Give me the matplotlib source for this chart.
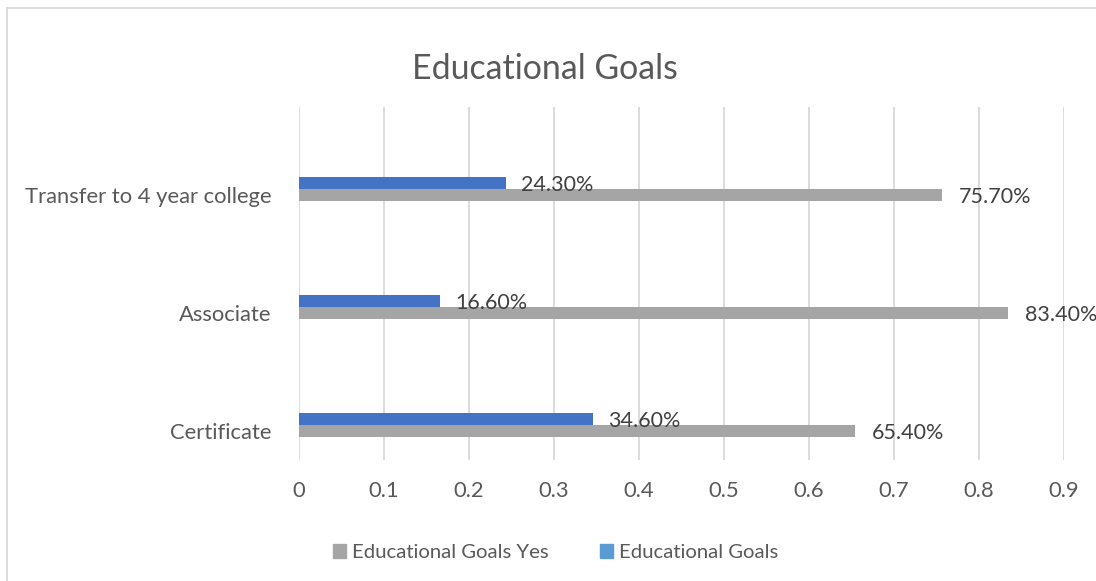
import numpy as np
import matplotlib.pyplot as plt
from matplotlib.lines import Line2D
from matplotlib.patches import Patch

plt.rcParams['font.family'] = ['Lato', 'DejaVu Sans']

# Survey results per goal (fractions)
categories = ["Certificate", "Associate", "Transfer to 4 year college"]
goals_yes = [0.654, 0.834, 0.757]
goals_no = [0.346, 0.166, 0.243]
xticks = [0, 0.1, 0.2, 0.3, 0.4, 0.5, 0.6, 0.7, 0.8, 0.9]

text_color = "#595959"
grid_color = "#d9d9d9"
gray = "#a5a5a5"
blue = "#4472c4"

fig = plt.figure(figsize=(10.96, 5.81), dpi=100)
ax = fig.add_axes([0.2728, 0.2083, 0.698, 0.6075])

y = np.arange(len(categories))
h = 0.1
ax.barh(y - h / 2, goals_yes, height=h, color=gray, zorder=2)
ax.barh(y + h / 2, goals_no, height=h, color=blue, zorder=2)

for yi, v in zip(y, goals_yes):
    ax.annotate(f"{v * 100:.2f}%", (v, yi - h / 2), xytext=(12, -1.5),
                textcoords="offset points", va="center", ha="left",
                fontsize=15.5, color="#404040")
for yi, v in zip(y, goals_no):
    ax.annotate(f"{v * 100:.2f}%", (v, yi + h / 2), xytext=(11, -1.5),
                textcoords="offset points", va="center", ha="left",
                fontsize=15.5, color="#404040")

ax.set_xlim(0, 0.9)
ax.set_ylim(-0.297, 2.695)
ax.set_xticks(xticks)
ax.set_xticklabels([f"{t:g}" for t in xticks])
ax.set_yticks(y - h / 2)
ax.set_yticklabels(categories)
ax.tick_params(axis="x", length=0, pad=15, labelsize=15.8, labelcolor=text_color)
ax.tick_params(axis="y", length=0, pad=20, labelsize=15.8, labelcolor=text_color)
ax.grid(axis="x", color=grid_color, linewidth=1.3, zorder=0)
for s in ax.spines.values():
    s.set_visible(False)

fig.text(0.497, 0.882, "Educational Goals", ha="center", va="center",
         fontsize=24.4, color=text_color)

handles = [Patch(color=gray, label="Educational Goals Yes"),
           Patch(color="#5b9bd5", label="Educational Goals")]
fig.legend(handles=handles, loc="center", bbox_to_anchor=(0.507, 0.049),
           ncol=2, frameon=False, fontsize=14.6, handlelength=0.64,
           handleheight=0.64, handletextpad=0.3, columnspacing=2.5,
           labelcolor=text_color)

# outer chart frame (top and left edges)
fig.add_artist(Line2D([7 / 1096, 1], [1 - 8 / 581, 1 - 8 / 581],
                      color=grid_color, linewidth=1.3))
fig.add_artist(Line2D([7 / 1096, 7 / 1096], [0, 1 - 8 / 581],
                      color=grid_color, linewidth=1.3))

fig.savefig("out.png", dpi=100)
